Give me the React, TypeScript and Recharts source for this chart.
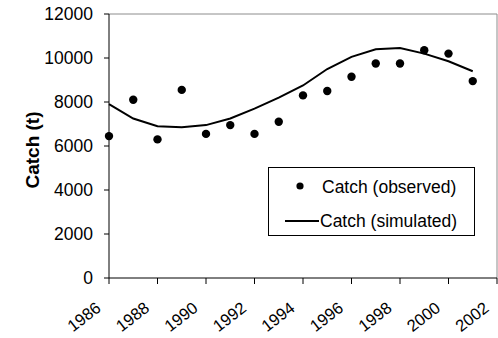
import React from 'react';
import { ComposedChart, Line, Scatter, XAxis, YAxis, Legend, ReferenceLine } from 'recharts';

const years = [1986, 1987, 1988, 1989, 1990, 1991, 1992, 1993, 1994, 1995, 1996, 1997, 1998, 1999, 2000, 2001];
const observed = [6450, 8100, 6300, 8550, 6550, 6950, 6550, 7100, 8300, 8500, 9150, 9750, 9750, 10350, 10200, 8950];
const simulated = [7900, 7250, 6900, 6850, 6950, 7250, 7700, 8200, 8750, 9500, 10050, 10400, 10450, 10200, 9850, 9400];
const xTicks = [1986, 1988, 1990, 1992, 1994, 1996, 1998, 2000, 2002];
const yTicks = [0, 2000, 4000, 6000, 8000, 10000, 12000];

const data = years.map((year, i) => ({
  year,
  observed: observed[i],
  simulated: simulated[i],
}));

const FONT = '"Liberation Sans", Arial, sans-serif';

const YearTick = (props: any) => {
  const { x, y, payload } = props;
  return (
    <text
      transform={`translate(${x - 7},${y + 24}) rotate(-38)`}
      textAnchor="end"
      fontSize={16.5}
      fontFamily={FONT}
      fill="#000"
    >
      {payload.value}
    </text>
  );
};

const ValueTick = (props: any) => {
  const { x, y, payload } = props;
  return (
    <text x={x - 11} y={y} dy="0.36em" textAnchor="end" fontSize={17.5} fontFamily={FONT} fill="#000">
      {payload.value}
    </text>
  );
};

const AxisTitle = (props: any) => {
  const vb = props.viewBox;
  const cy = vb.y + vb.height / 2 + 4;
  return (
    <text
      transform={`translate(39,${cy}) rotate(-90)`}
      textAnchor="middle"
      fontSize={19}
      fontWeight="bold"
      fontFamily={FONT}
      fill="#000"
    >
      Catch (t)
    </text>
  );
};

const LegendBox = () => (
  <div
    style={{
      width: 205,
      height: 67,
      border: '1px solid #000',
      background: '#fff',
      position: 'relative',
    }}
  >
    <svg width={205} height={67} style={{ position: 'absolute', left: 0, top: 0 }}>
      <circle cx={31} cy={18} r={3.6} fill="#000" />
      <line x1={16} y1={53} x2={50} y2={53} stroke="#000" strokeWidth={2} />
      <text x={53} y={25} fontSize={17.5} fontFamily={FONT}>Catch (observed)</text>
      <text x={51} y={59} fontSize={17.5} fontFamily={FONT}>Catch (simulated)</text>
    </svg>
  </div>
);

const App = () => {
  return (
    <div style={{ position: 'absolute', left: 0, top: 0, background: '#fff' }}>
      <ComposedChart
        width={498}
        height={338}
        data={data}
        margin={{ top: 14, right: 1, left: 0, bottom: 0 }}
      >
        <XAxis
          dataKey="year"
          type="number"
          domain={[1986, 2002]}
          ticks={xTicks}
          interval={0}
          height={60}
          tickSize={6}
          tickMargin={2}
          stroke="#000"
          tick={<YearTick />}
        />
        <YAxis
          type="number"
          domain={[0, 12000]}
          ticks={yTicks}
          interval={0}
          width={109}
          tickSize={5}
          tickMargin={0}
          stroke="#000"
          tick={<ValueTick />}
          label={{ content: <AxisTitle /> }}
        />
        <ReferenceLine y={12000} stroke="#8c8c8c" strokeWidth={1} />
        <ReferenceLine x={2002} stroke="#8c8c8c" strokeWidth={1} />
        <Line
          dataKey="simulated"
          type="linear"
          stroke="#000"
          strokeWidth={2}
          dot={false}
          isAnimationActive={false}
        />
        <Scatter
          dataKey="observed"
          fill="#000"
          shape={(p: any) => <circle cx={p.cx} cy={p.cy} r={4.2} fill="#000" />}
          isAnimationActive={false}
        />
        <Legend
          layout="vertical"
          align="center"
          verticalAlign="middle"
          content={<LegendBox />}
          wrapperStyle={{ position: 'absolute', left: 268, top: 167, width: 207, height: 69 }}
        />
      </ComposedChart>
    </div>
  );
};

export default App;
